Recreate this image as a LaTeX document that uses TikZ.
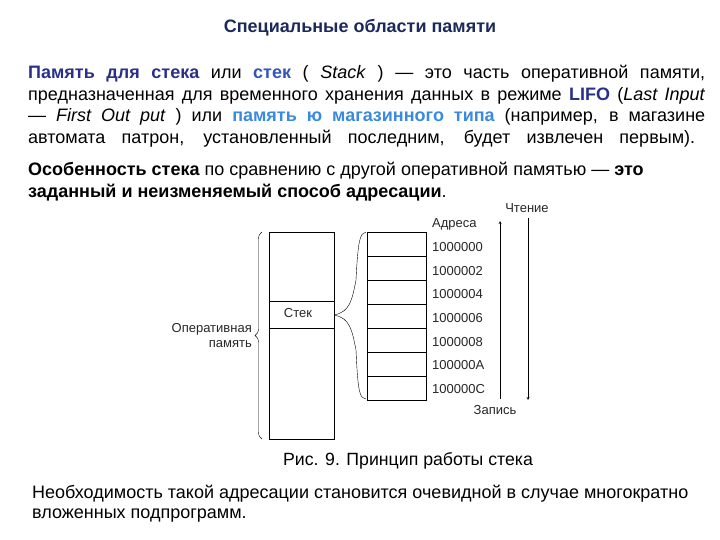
\documentclass[tikz,border=0pt]{standalone}
\usepackage{fontspec}
\setmainfont{Liberation Sans}
\usetikzlibrary{decorations.pathreplacing}
\definecolor{dblue}{HTML}{2B2F8C}
\definecolor{mblue}{HTML}{3355BB}
\definecolor{lblue}{HTML}{3A8AE0}
\definecolor{ttl}{HTML}{1C2A5A}
\newsavebox{\linebx}
\newcommand{\fitline}[1]{\sbox{\linebx}{#1}%
  \ifdim\wd\linebx>677pt\relax
    \pgfmathsetmacro{\fitsc}{677/\wd\linebx*1pt}\scalebox{\fitsc}[1]{\usebox{\linebx}}%
  \else\makebox[677pt][s]{#1}\fi}
\begin{document}
\begin{tikzpicture}[x=1pt,y=-1pt,
  txt/.style={anchor=west,inner sep=0pt,font=\fontsize{18}{21}\selectfont},
  small/.style={inner sep=0pt,font=\fontsize{13}{15}\selectfont,text=black!85},
  cell/.style={draw,thin}]
\useasboundingbox (0,0) rectangle (720,540);
\node[inner sep=0pt,font=\fontsize{18}{21}\bfseries,text=ttl] (title) at (360,28) {Специальные области памяти};
\node[txt] (p1) at (28,74) {\fitline{\textbf{\color{dblue}Память для стека} или \textbf{\color{mblue}стек} ( \textit{Stack} ) — это часть оперативной памяти,}};
\node[txt] (p2) at (28,96) {\fitline{предназначенная для временного хранения данных в режиме \textbf{\color{dblue}LIFO} (\textit{Last Input}}};
\node[txt] (p3) at (28,117) {\fitline{— \textit{First Out put} ) или \textbf{\color{lblue}память ю магазинного типа} (например, в магазине}};
\node[txt] (p4) at (28,139) {\makebox[667pt][s]{автомата патрон, установленный последним, будет извлечен первым).}};
\node[txt] (q1) at (28,171) {\textbf{Особенность стека} по сравнению с другой оперативной памятью — \textbf{это}};
\node[txt] (q2) at (28,193) {\textbf{заданный и неизменяемый способ адресации}.};
% big memory
\draw[thick] (269,232) rectangle (334,439);
\draw[thin] (269,301) -- (334,301) (269,328) -- (334,328);
\node[small] (stkl) at (298,313) {Стек};
\draw[thin,decorate,decoration={brace,amplitude=7pt}] (262,439) -- (262,232) coordinate[midway] (bt);
\node[small,align=right,anchor=east] (opm) at (252,336) {Оперативная\\память};
% register
\foreach \i in {0,...,6}{\node[cell,minimum width=59pt,minimum height=24pt,inner sep=0pt] (c\i) at (396.5,244+24*\i) {};}
\draw[thick] (367,328) -- (426,328) (367,376) -- (426,376);
\draw[thin] (334,315) .. controls (350,312) and (352,300) .. (356,280) .. controls (358,240) and (360,233) .. (366,232);
\draw[thin] (334,315) .. controls (350,318) and (352,330) .. (356,350) .. controls (358,395) and (360,398) .. (366,399);
\node[small,anchor=west] (adr) at (432,224) {Адреса};
\foreach \a [count=\i from 0] in {1000000,1000002,1000004,1000006,1000008,100000A,100000C}{\node[small,anchor=west] (a\i) at (432,247+23.7*\i) {\a};}
\coordinate (u1) at (500,399); \coordinate (u2) at (500,221);
\coordinate (d1) at (528,218); \coordinate (d2) at (528,400);
\draw[thin,-stealth] (u1) -- (u2);
\draw[thin,-stealth] (d1) -- (d2);
\node[small] (rd) at (527,208) {Чтение};
\node[small] (wr) at (495,410) {Запись};
\node[inner sep=0pt,font=\fontsize{17.7}{20}\selectfont] (cap) at (408,461) {Рис. 9. Принцип работы стека};
\node[txt] (b1) at (32,494) {Необходимость такой адресации становится очевидной в случае многократно};
\node[txt] (b2) at (32,516) {вложенных подпрограмм.};
\end{tikzpicture}
\end{document}
